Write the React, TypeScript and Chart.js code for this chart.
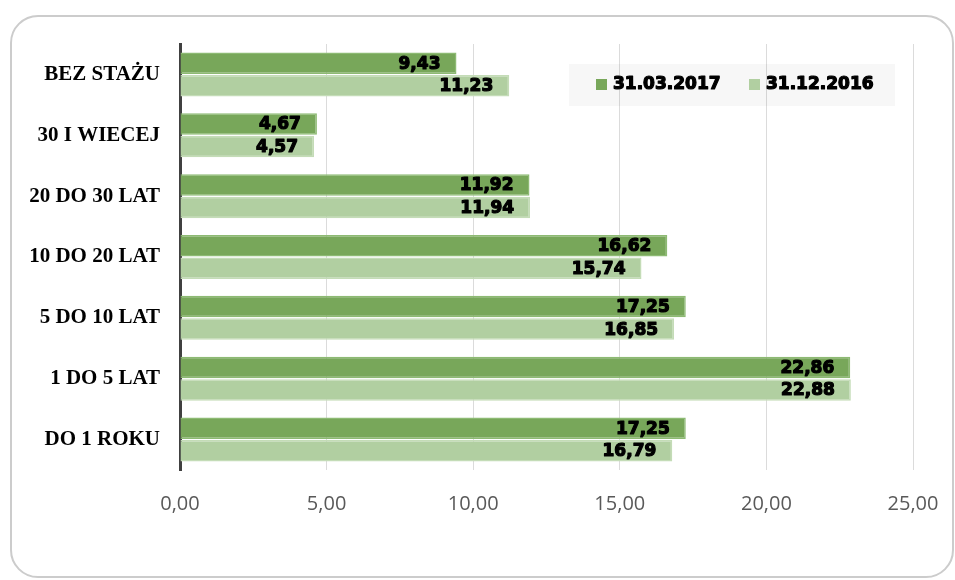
import React, { useEffect, useRef } from "react";
import { Chart, registerables } from "chart.js";

Chart.register(...registerables);

const categories = [
  "BEZ STAŻU",
  "30 I WIECEJ",
  "20 DO 30 LAT",
  "10 DO 20 LAT",
  "5 DO 10 LAT",
  "1 DO 5 LAT",
  "DO 1 ROKU",
];
const seriesNames = ["31.03.2017", "31.12.2016"];
const values2017 = [9.43, 4.67, 11.92, 16.62, 17.25, 22.86, 17.25];
const values2016 = [11.23, 4.57, 11.94, 15.74, 16.85, 22.88, 16.79];

const fmt = (v: number) => v.toFixed(2).replace(".", ",");

const DARK = "#78A75A";
const DARK_BORDER = "#8DBA73";
const LIGHT = "#B1CFA1";
const LIGHT_BORDER = "#C4DCB7";

const legendBgPlugin = {
  id: "legendBg",
  beforeDraw(chart: any) {
    const { ctx, chartArea } = chart;
    ctx.save();
    ctx.fillStyle = "#F7F7F7";
    ctx.fillRect(chartArea.right - 344, chartArea.top + 20, 326, 42);
    ctx.restore();
  },
};

const overlayPlugin = {
  id: "overlay",
  afterDraw(chart: any) {
    const { ctx, chartArea } = chart;
    ctx.save();
    ctx.font = "bold 17px 'DejaVu Sans'";
    ctx.textAlign = "right";
    ctx.textBaseline = "middle";
    ctx.fillStyle = "#000";
    ctx.strokeStyle = "#000";
    ctx.lineWidth = 1.2;
    ctx.lineJoin = "round";
    chart.data.datasets.forEach((ds: any, di: number) => {
      const meta = chart.getDatasetMeta(di);
      meta.data.forEach((bar: any, i: number) => {
        const t = fmt(ds.data[i]);
        ctx.strokeText(t, bar.x - 16, bar.y + 1);
        ctx.fillText(t, bar.x - 16, bar.y + 1);
      });
    });
    const lx = chartArea.right - 344;
    const ly = chartArea.top + 20;
    ctx.textAlign = "left";
    const offsets = [27, 180];
    chart.data.datasets.forEach((ds: any, di: number) => {
      const x = lx + offsets[di];
      ctx.fillStyle = ds.backgroundColor;
      ctx.fillRect(x, ly + 15, 11, 11);
      ctx.fillStyle = "#000";
      ctx.strokeText(ds.label, x + 17, ly + 21);
      ctx.fillText(ds.label, x + 17, ly + 21);
    });
    ctx.restore();
  },
};

export default function App() {
  const ref = useRef<HTMLCanvasElement | null>(null);
  useEffect(() => {
    if (!ref.current) return;
    const chart = new Chart(ref.current, {
      type: "bar",
      data: {
        labels: categories,
        datasets: [
          {
            label: seriesNames[0],
            data: values2017,
            backgroundColor: DARK,
            borderColor: DARK_BORDER,
            borderWidth: 1.5,
            categoryPercentage: 0.74,
            barPercentage: 0.955,
          },
          {
            label: seriesNames[1],
            data: values2016,
            backgroundColor: LIGHT,
            borderColor: LIGHT_BORDER,
            borderWidth: 1.5,
            categoryPercentage: 0.74,
            barPercentage: 0.955,
          },
        ],
      },
      options: {
        indexAxis: "y",
        responsive: false,
        animation: false,
        layout: { padding: { top: 44, right: 42, left: 0, bottom: 0 } },
        plugins: {
          legend: { display: false },
          tooltip: { enabled: false },
        },
        scales: {
          x: {
            min: 0,
            max: 25,
            z: 1,
            afterFit: (s: any) => {
              s.height = 110;
              s.paddingLeft = 0;
              s.paddingRight = 0;
            },
            ticks: {
              stepSize: 5,
              padding: 22,
              color: "#595959",
              font: { family: "'Open Sans'", size: 20 },
              callback: (v: any) => fmt(Number(v)),
            },
            grid: {
              color: "rgba(0,0,0,0.14)",
              lineWidth: 1,
              drawTicks: false,
            },
            border: { display: false },
          },
          y: {
            z: 1,
            afterFit: (s: any) => {
              s.width = 180;
              s.paddingTop = 0;
              s.paddingBottom = 0;
            },
            ticks: {
              padding: 20,
              color: "#000",
              font: { family: "'Liberation Serif'", size: 21, weight: "bold" },
            },
            grid: { display: false, drawTicks: false },
            border: { display: true, color: "#404040", width: 3 },
          },
        },
      },
      plugins: [legendBgPlugin, overlayPlugin],
    });
    return () => chart.destroy();
  }, []);

  return (
    <div
      style={{
        position: "fixed",
        left: 0,
        top: 0,
        width: 955,
        height: 580,
        background: "#fff",
        overflow: "hidden",
      }}
    >
      <div
        style={{
          position: "absolute",
          left: 10,
          top: 15,
          width: 944,
          height: 563,
          border: "2px solid #CCCCCC",
          borderRadius: 28,
          boxSizing: "border-box",
        }}
      />
      <canvas
        ref={ref}
        width={955}
        height={580}
        style={{ position: "absolute", left: 0, top: 0 }}
      />
    </div>
  );
}
